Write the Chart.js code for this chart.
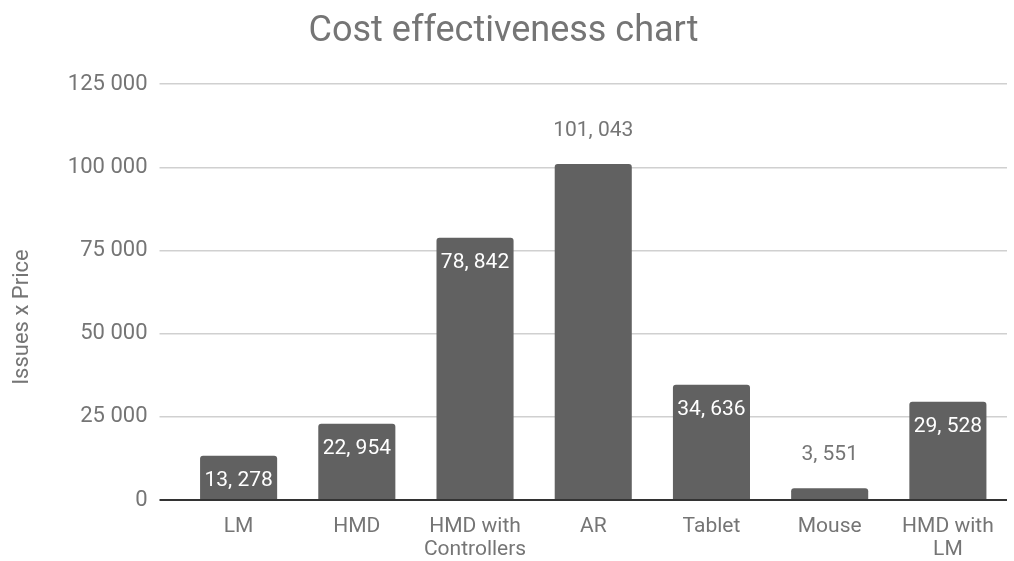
<!DOCTYPE html>
<html>
<head>
<meta charset="utf-8">
<title>Cost effectiveness chart</title>
<script src="https://cdn.jsdelivr.net/npm/chart.js@4/dist/chart.umd.min.js"></script>
<style>
  html, body { margin: 0; padding: 0; background: #fff; }
  #wrap { width: 1014px; height: 561px; position: relative; }
</style>
</head>
<body>
<div id="wrap"><canvas id="chart"></canvas></div>
<script>
const categories = ["LM", "HMD", ["HMD with", "Controllers"], "AR", "Tablet", "Mouse", ["HMD with", "LM"]];
const costValues = [13278, 22954, 78842, 101043, 34636, 3551, 29528];
const yTicks = [0, 25000, 50000, 75000, 100000, 125000];

const BAR = "#616161";
const TEXT = "#757575";
const FONT = "Roboto, 'Noto Sans', sans-serif";

// "101,043" -> "101, 043", as the sheet prints it
const fmtLabel = v => v.toLocaleString("en-US").replace(/,/g, ", ");
// axis ticks use a space as thousands separator
const fmtTick = v => v.toLocaleString("en-US").replace(/,/g, " ");

const valueLabels = {
  id: "valueLabels",
  afterDatasetsDraw(chart) {
    const ctx = chart.ctx;
    const meta = chart.getDatasetMeta(0);
    const data = chart.data.datasets[0].data;
    const max = Math.max(...data);
    ctx.save();
    ctx.font = "21px " + FONT;
    ctx.textAlign = "center";
    ctx.textBaseline = "middle";
    meta.data.forEach((bar, i) => {
      const h = bar.base - bar.y;
      const outside = h < 40 || data[i] === max;
      if (outside) {
        ctx.fillStyle = TEXT;
        ctx.fillText(fmtLabel(data[i]), bar.x, bar.y - 33);
      } else {
        ctx.fillStyle = "#ffffff";
        ctx.fillText(fmtLabel(data[i]), bar.x, bar.y + 25);
      }
    });
    ctx.restore();
  }
};

// rotated y-axis title, sitting a little below the middle of the plot
const yTitle = {
  id: "yTitle",
  afterDraw(chart) {
    const ctx = chart.ctx;
    const area = chart.chartArea;
    ctx.save();
    ctx.translate(chart.scales.y.left + 22, (area.top + area.bottom) / 2 + 25);
    ctx.rotate(-Math.PI / 2);
    ctx.font = "22px " + FONT;
    ctx.fillStyle = TEXT;
    ctx.textAlign = "center";
    ctx.textBaseline = "middle";
    ctx.fillText("Issues x Price", 0, 0);
    ctx.restore();
  }
};

new Chart(document.getElementById("chart"), {
  type: "bar",
  data: {
    labels: categories,
    datasets: [{
      data: costValues,
      backgroundColor: BAR,
      borderRadius: { topLeft: 3, topRight: 3 },
      borderSkipped: "bottom",
      categoryPercentage: 0.652,
      barPercentage: 1
    }]
  },
  options: {
    responsive: true,
    maintainAspectRatio: false,
    animation: false,
    layout: { padding: { top: 0, right: 7, bottom: 0, left: 0 } },
    plugins: {
      legend: { display: false },
      tooltip: { enabled: false },
      title: {
        display: true,
        text: "Cost effectiveness chart",
        color: TEXT,
        font: { family: FONT, size: 36, weight: "normal" },
        padding: { top: 10, bottom: 31 }
      }
    },
    scales: {
      x: {
        afterFit(scale) { scale.height = 61; },
        grid: { display: false, drawTicks: false },
        border: { display: false },
        ticks: {
          color: TEXT,
          padding: 15,
          font: { family: FONT, size: 21, lineHeight: 1.1 },
          maxRotation: 0,
          autoSkip: false
        }
      },
      y: {
        min: 0,
        max: 125000,
        afterFit(scale) { scale.width = 179.5; },
        afterBuildTicks(scale) { scale.ticks = yTicks.map(v => ({ value: v })); },
        border: { display: false },
        grid: {
          color: c => c.tick && c.tick.value === 0 ? "#333333" : "#d0d0d0",
          tickColor: c => c.tick && c.tick.value === 0 ? "#333333" : "#d0d0d0",
          lineWidth: c => c.tick && c.tick.value === 0 ? 2 : 1.5,
          tickLength: 20
        },
        ticks: {
          color: TEXT,
          padding: 12,
          font: { family: FONT, size: 22 },
          callback: v => fmtTick(v)
        }
      }
    }
  },
  plugins: [valueLabels, yTitle]
});
</script>
</body>
</html>
